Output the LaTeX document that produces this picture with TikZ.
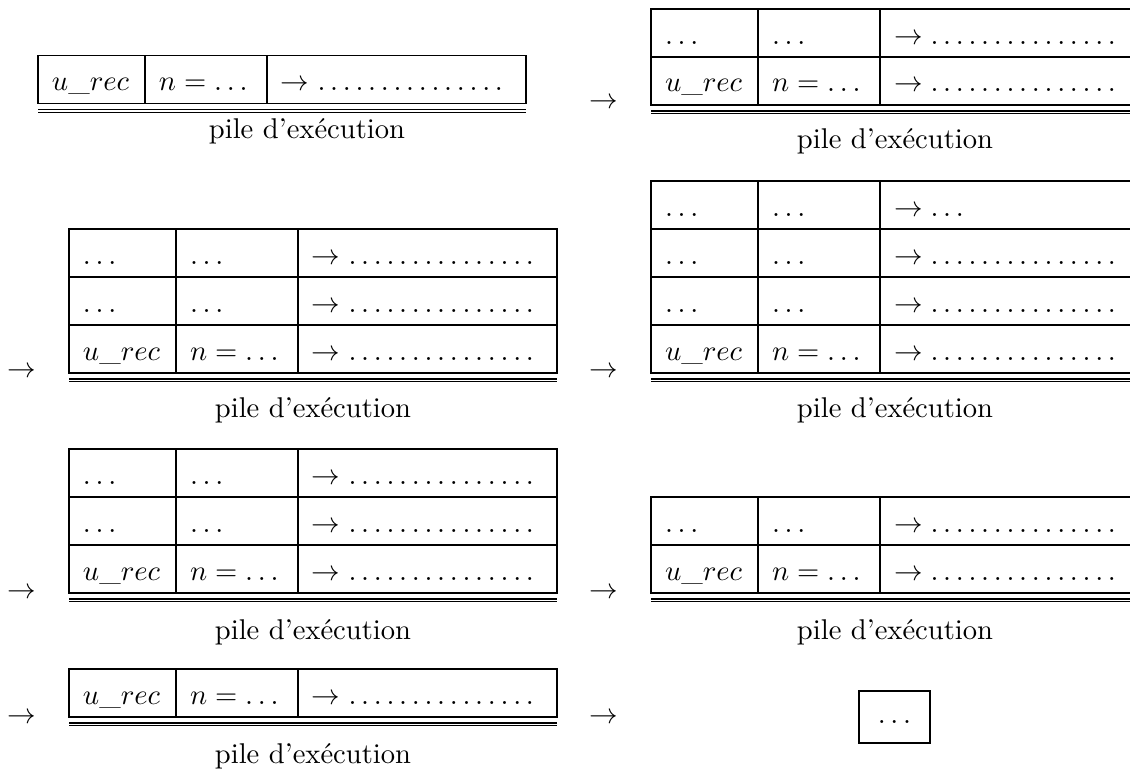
\documentclass[tikz,border=0pt]{standalone}
\tikzset{
  cell/.style={draw, rectangle, anchor=north west, outer sep=0pt,
    inner xsep=4.9pt, inner ysep=0pt, minimum height=16.8pt,
    text height=12.25pt, text depth=4.55pt, align=left},
  colname/.style={cell, text width=27.65pt},
  colarg/.style={cell, text width=32.9pt},
  colret/.style={cell, text width=80.85pt},
  pilelabel/.style={inner sep=0pt},
  stepmark/.style={inner sep=0pt},
  endbox/.style={draw, outer sep=0pt, minimum width=24.85pt, minimum height=18.2pt,
    inner sep=0pt, text height=4.2pt, text depth=0pt},
}
% one frame of the call stack: name, x, y of top edge, three cells
\newcommand\framerow[6]{%
  \node[colname] (#1a) at (#2,#3) {#4};
  \node[colarg]  (#1b) at (#1a.north east) {#5};
  \node[colret]  (#1c) at (#1b.north east) {#6};
}
% double rule under the bottom frame
\newcommand\stackbase[1]{%
  \draw ([yshift=-2.1pt]#1a.south west) -- ([yshift=-2.1pt]#1c.south east);
  \draw ([yshift=-3.0pt]#1a.south west) -- ([yshift=-3.0pt]#1c.south east);
}
\newcommand\anyval{$\ldots$}
\newcommand\retdots{$\rightarrow\ldots\ldots\ldots\ldots\ldots$}
\newcommand\urec{$u\_rec$}
\newcommand\nval{$n=\ldots$}
\begin{document}
\begin{tikzpicture}[x=0.35pt, y=-0.35pt]
\useasboundingbox (0,0) rectangle (1130,776);
\clip (0,0) rectangle (1130,776);

% state 1
\framerow{sA1}{38}{55.5}{\urec}{\nval}{\retdots}
\stackbase{sA1}
\node[pilelabel] (labA) at (307,131) {pile d'exécution};
\node[stepmark] (arA) at (604,103) {$\rightarrow$};

% state 2
\framerow{sB2}{651}{9}{\anyval}{\anyval}{\retdots}
\framerow{sB1}{651}{57}{\urec}{\nval}{\retdots}
\stackbase{sB1}
\node[pilelabel] (labB) at (895,141) {pile d'exécution};

% state 3
\node[stepmark] (arC) at (22,372) {$\rightarrow$};
\framerow{sC3}{69}{229}{\anyval}{\anyval}{\retdots}
\framerow{sC2}{69}{277}{\anyval}{\anyval}{\retdots}
\framerow{sC1}{69}{325}{\urec}{\nval}{\retdots}
\stackbase{sC1}
\node[pilelabel] (labC) at (313,410) {pile d'exécution};

% state 4
\node[stepmark] (arD) at (604,372) {$\rightarrow$};
\framerow{sD4}{651}{181}{\anyval}{\anyval}{$\rightarrow\ldots$}
\framerow{sD3}{651}{229}{\anyval}{\anyval}{\retdots}
\framerow{sD2}{651}{277}{\anyval}{\anyval}{\retdots}
\framerow{sD1}{651}{325}{\urec}{\nval}{\retdots}
\stackbase{sD1}
\node[pilelabel] (labD) at (895,410) {pile d'exécution};

% state 5
\node[stepmark] (arE) at (22,593) {$\rightarrow$};
\framerow{sE3}{69}{449}{\anyval}{\anyval}{\retdots}
\framerow{sE2}{69}{497}{\anyval}{\anyval}{\retdots}
\framerow{sE1}{69}{545}{\urec}{\nval}{\retdots}
\stackbase{sE1}
\node[pilelabel] (labE) at (313,632) {pile d'exécution};

% state 6
\node[stepmark] (arF) at (604,593) {$\rightarrow$};
\framerow{sF2}{651}{497}{\anyval}{\anyval}{\retdots}
\framerow{sF1}{651}{545}{\urec}{\nval}{\retdots}
\stackbase{sF1}
\node[pilelabel] (labF) at (895,632) {pile d'exécution};

% state 7
\node[stepmark] (arG) at (22,718) {$\rightarrow$};
\framerow{sG1}{69}{669}{\urec}{\nval}{\retdots}
\stackbase{sG1}
\node[pilelabel] (labG) at (313,756) {pile d'exécution};

% final value
\node[stepmark] (arH) at (604,718) {$\rightarrow$};
\node[endbox] (result) at (894.5,717) {$\ldots$};
\end{tikzpicture}
\end{document}
